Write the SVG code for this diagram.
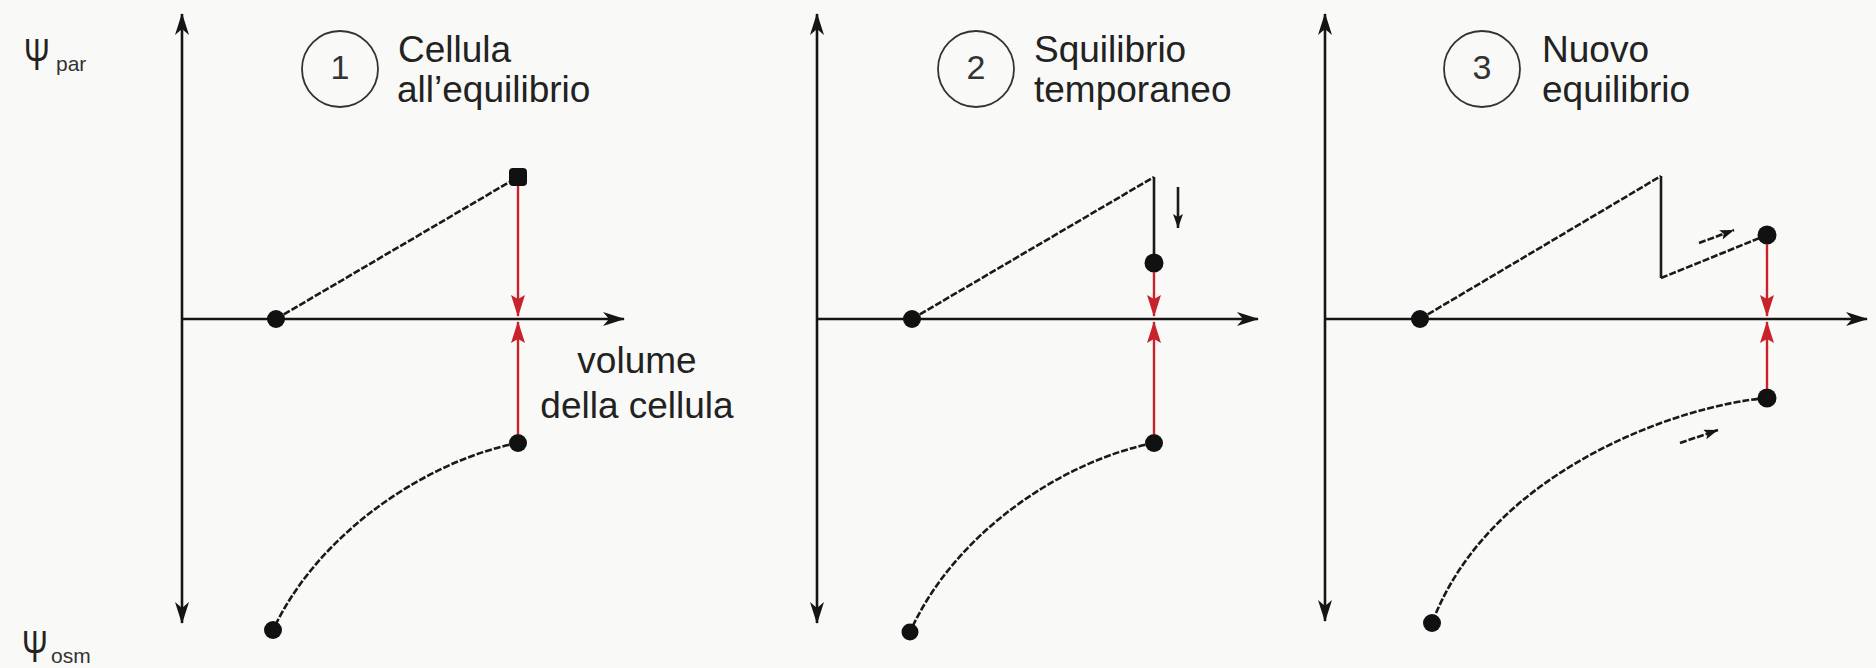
<svg xmlns="http://www.w3.org/2000/svg" width="1876" height="668" viewBox="0 0 1876 668">
<defs>
<style>
.axis{stroke:#151515;stroke-width:2.6;fill:none}
.curve{stroke:#1a1a1a;stroke-width:2.6;fill:none;stroke-dasharray:7 2}
.solid{stroke:#1a1a1a;stroke-width:2.6;fill:none}
.red{stroke:#c8232c;stroke-width:2.4;fill:none}
.dot{fill:#111}
.lbl{font-family:"Liberation Sans",Arial,sans-serif;font-size:37px;fill:#222}
.num{font-family:"Liberation Sans",Arial,sans-serif;font-size:34px;fill:#333;text-anchor:middle}
.ring{fill:none;stroke:#333;stroke-width:1.8}
.psi{font-family:"Liberation Sans",Arial,sans-serif;font-size:44px;fill:#222}
.sub{font-family:"Liberation Sans",Arial,sans-serif;font-size:21px;fill:#333}
</style>
<marker id="axArrow" markerWidth="24" markerHeight="18" refX="21" refY="9" orient="auto-start-reverse" markerUnits="userSpaceOnUse">
<path d="M0,2 L22,9 L0,16 L6,9 z" fill="#151515"/>
</marker>
<marker id="redArrow" markerWidth="24" markerHeight="16" refX="21" refY="7" orient="auto" markerUnits="userSpaceOnUse">
<path d="M0,0 L22,7 L0,14 L4,7 z" fill="#c8232c"/>
</marker>
<marker id="smallArrow" markerWidth="16" markerHeight="12" refX="14" refY="5" orient="auto" markerUnits="userSpaceOnUse">
<path d="M0,0 L14,5 L0,10 L3,5 z" fill="#151515"/>
</marker>
</defs>
<rect width="1876" height="668" fill="#f9f9f7"/>

<g id="y-labels">
<text class="psi" x="24" y="70" transform="translate(24,0) scale(0.7,1) translate(-24,0)">Ψ</text>
<text class="sub" x="56" y="71">par</text>
<text class="psi" x="22" y="662" transform="translate(22,0) scale(0.7,1) translate(-22,0)">Ψ</text>
<text class="sub" x="51" y="663">osm</text>
</g>

<g id="panel1">
<line class="axis" x1="182" y1="623" x2="182" y2="14" marker-start="url(#axArrow)" marker-end="url(#axArrow)"/>
<line class="axis" x1="182" y1="319" x2="624" y2="319" marker-end="url(#axArrow)"/>
<circle class="ring" cx="340" cy="69" r="38"/>
<text class="num" x="340" y="79">1</text>
<text class="lbl" x="398" y="62">Cellula</text>
<text class="lbl" x="397" y="102">all’equilibrio</text>
<text class="lbl" x="637" y="373" text-anchor="middle">volume</text>
<text class="lbl" x="637" y="418" text-anchor="middle">della cellula</text>
<line class="curve" x1="276" y1="319" x2="518" y2="177"/>
<path class="curve" d="M518,443 C430,460 320,530 273,630"/>
<circle class="dot" cx="276" cy="319" r="9"/>
<rect class="dot" x="509" y="168" width="18" height="18" rx="4"/>
<circle class="dot" cx="518" cy="443" r="9"/>
<circle class="dot" cx="273" cy="630" r="9"/>
</g>

<g id="panel2">
<line class="axis" x1="817" y1="623" x2="817" y2="14" marker-start="url(#axArrow)" marker-end="url(#axArrow)"/>
<line class="axis" x1="817" y1="319" x2="1258" y2="319" marker-end="url(#axArrow)"/>
<circle class="ring" cx="976" cy="69" r="38"/>
<text class="num" x="976" y="79">2</text>
<text class="lbl" x="1034" y="62">Squilibrio</text>
<text class="lbl" x="1034" y="102">temporaneo</text>
<line class="curve" x1="912" y1="319" x2="1154" y2="177"/>
<polyline class="solid" points="1154,177 1154,263"/>
<path class="curve" d="M1154,443 C1066,460 956,530 910,632"/>
<circle class="dot" cx="912" cy="319" r="9"/>
<circle class="dot" cx="1154" cy="263" r="9.5"/>
<circle class="dot" cx="1154" cy="443" r="9"/>
<circle class="dot" cx="910" cy="632" r="8.5"/>
</g>

<g id="panel3">
<line class="axis" x1="1325" y1="621" x2="1325" y2="14" marker-start="url(#axArrow)" marker-end="url(#axArrow)"/>
<line class="axis" x1="1325" y1="319" x2="1867" y2="319" marker-end="url(#axArrow)"/>
<circle class="ring" cx="1482" cy="69" r="38"/>
<text class="num" x="1482" y="79">3</text>
<text class="lbl" x="1542" y="62">Nuovo</text>
<text class="lbl" x="1542" y="102">equilibrio</text>
<line class="curve" x1="1420" y1="319" x2="1661" y2="176"/>
<polyline class="solid" points="1661,176 1661,278"/>
<line class="curve" x1="1661" y1="278" x2="1767" y2="235"/>
<path class="curve" d="M1767,398 C1680,405 1490,470 1432,623"/>
<circle class="dot" cx="1420" cy="319" r="9"/>
<circle class="dot" cx="1767" cy="235" r="9.5"/>
<circle class="dot" cx="1767" cy="398" r="9.5"/>
<circle class="dot" cx="1432" cy="623" r="9"/>
</g>

<g id="connectors">
<line class="red" x1="518" y1="186" x2="518" y2="316" marker-end="url(#redArrow)"/>
<line class="red" x1="518" y1="434" x2="518" y2="322" marker-end="url(#redArrow)"/>
<line class="red" x1="1154" y1="272" x2="1154" y2="316" marker-end="url(#redArrow)"/>
<line class="red" x1="1154" y1="434" x2="1154" y2="322" marker-end="url(#redArrow)"/>
<line class="red" x1="1767" y1="244" x2="1767" y2="316" marker-end="url(#redArrow)"/>
<line class="red" x1="1767" y1="389" x2="1767" y2="322" marker-end="url(#redArrow)"/>
<line class="solid" x1="1178" y1="187" x2="1178" y2="228" stroke-width="2.2" marker-end="url(#smallArrow)"/>
<line class="curve" x1="1699" y1="243" x2="1734" y2="230" stroke-width="2.2" marker-end="url(#smallArrow)"/>
<line class="curve" x1="1680" y1="443" x2="1718" y2="430" stroke-width="2.2" marker-end="url(#smallArrow)"/>
</g>
</svg>
